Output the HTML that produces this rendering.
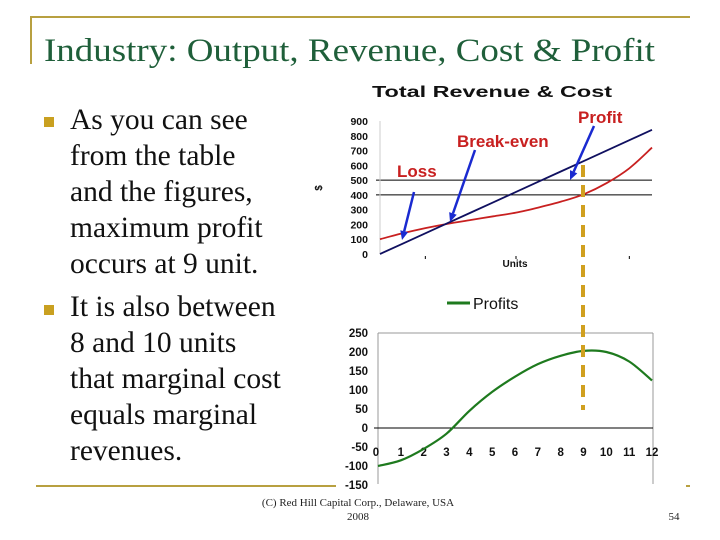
<!DOCTYPE html>
<html><head><meta charset="utf-8"><style>
html,body{margin:0;padding:0;background:#fff;}
svg{display:block;}
</style></head><body>
<svg id="slide" width="720" height="540" viewBox="0 0 720 540" xmlns="http://www.w3.org/2000/svg">
<line x1="30" y1="17" x2="690" y2="17" stroke="#b8a040" stroke-width="2"/>
<line x1="31" y1="17" x2="31" y2="64" stroke="#b8a040" stroke-width="2"/>
<text x="44" y="61" font-family="Liberation Serif, serif" font-size="33" textLength="611" lengthAdjust="spacingAndGlyphs" fill="#1f5f3a">Industry: Output, Revenue, Cost &amp; Profit</text>
<g font-family="Liberation Serif, serif" font-size="29.5" fill="#111">
<rect x="44" y="117" width="10" height="10" fill="#c9a020"/>
<text x="70" y="129">As you can see</text>
<text x="70" y="165">from the table</text>
<text x="70" y="201">and the figures,</text>
<text x="70" y="237">maximum profit</text>
<text x="70" y="273">occurs at 9 unit.</text>
<rect x="44" y="305" width="10" height="10" fill="#c9a020"/>
<text x="70" y="316">It is also between</text>
<text x="70" y="352">8 and 10 units</text>
<text x="70" y="388">that marginal cost</text>
<text x="70" y="424">equals marginal</text>
<text x="70" y="460">revenues.</text>
</g>
<line x1="36" y1="486" x2="336" y2="486" stroke="#b8a040" stroke-width="2"/>
<line x1="686" y1="486" x2="690" y2="486" stroke="#b8a040" stroke-width="2"/>
<text x="358" y="506" text-anchor="middle" font-family="Liberation Serif, serif" font-size="11" fill="#222">(C) Red Hill Capital Corp., Delaware, USA</text>
<text x="358" y="520" text-anchor="middle" font-family="Liberation Serif, serif" font-size="11" fill="#222">2008</text>
<text x="674" y="520" text-anchor="middle" font-family="Liberation Serif, serif" font-size="11" fill="#222">54</text>
<g id="topchart"></g>
<g id="botchart"></g>
<g id="ann"></g>
</svg>
<script>
const units = [0,1,2,3,4,5,6,7,8,9,10,11,12];
const revenue = [0,70,140,210,280,350,420,490,560,630,700,770,840];
const cost = [100,140,175,205,230,255,280,315,355,405,480,580,720];
const topTicks = [0,100,200,300,400,500,600,700,800,900];
const profits = [-100,-85,-55,-15,45,95,135,168,190,203,200,175,125];
const botTicks = [-150,-100,-50,0,50,100,150,200,250];

const NS="http://www.w3.org/2000/svg";
function mk(parent,tag,attrs,text){const e=document.createElementNS(NS,tag);for(const k in attrs)e.setAttribute(k,attrs[k]);if(text!==undefined)e.textContent=text;parent.appendChild(e);return e;}
function smooth(pts){let d="M"+pts[0][0]+","+pts[0][1];for(let i=0;i<pts.length-1;i++){const p0=pts[i-1]||pts[i],p1=pts[i],p2=pts[i+1],p3=pts[i+2]||p2;
d+=" C"+(p1[0]+(p2[0]-p0[0])/6)+","+(p1[1]+(p2[1]-p0[1])/6)+" "+(p2[0]-(p3[0]-p1[0])/6)+","+(p2[1]-(p3[1]-p1[1])/6)+" "+p2[0]+","+p2[1];}return d;}

// top chart
const tg=document.getElementById('topchart');
const tx=u=>380+u*(652-380)/12, ty=v=>254-v*(254-121)/900;
const tt=mk(tg,'text',{x:372,y:97,textLength:240,lengthAdjust:'spacingAndGlyphs','font-family':'Liberation Sans, sans-serif','font-size':16,'font-weight':'bold',fill:'#111'},'Total Revenue & Cost');


topTicks.forEach(v=>{const t=mk(tg,'text',{x:368,y:ty(v)+4,'text-anchor':'end','font-family':'Liberation Sans, sans-serif','font-size':10.5,'font-weight':'bold',fill:'#111'},String(v));

});
[400,500].forEach(v=>{const l=mk(tg,'line',{x1:376,x2:652,y1:ty(v),y2:ty(v),stroke:'#000','stroke-width':1});

});
mk(tg,'line',{x1:380,x2:380,y1:121,y2:254,stroke:'#ccc','stroke-width':1});
[2,6,11].forEach(u=>{const l=mk(tg,'line',{x1:tx(u),x2:tx(u),y1:256,y2:259,stroke:'#000','stroke-width':1});

});
const ul=mk(tg,'text',{x:515,y:267,'text-anchor':'middle','font-family':'Liberation Sans, sans-serif','font-size':10,'font-weight':'bold',fill:'#111'},'Units');


const yl=mk(tg,'text',{x:0,y:0,transform:'translate(322,188) rotate(-90)','text-anchor':'middle','font-family':'Liberation Sans, sans-serif','font-size':10,'font-weight':'bold',fill:'#111'},'$');


const cp=mk(tg,'path',{d:smooth(units.map((u,i)=>[tx(u),ty(cost[i])])),fill:'none',stroke:'#c82020','stroke-width':1.8});


const rp=mk(tg,'path',{d:"M"+units.map((u,i)=>tx(u)+","+ty(revenue[i])).join(" L"),fill:'none',stroke:'#101060','stroke-width':1.8});



// bottom chart
const bg=document.getElementById('botchart');
const bx=u=>378+u*(652-378)/12, by=v=>428-v*(428-333)/250;
const lg=mk(bg,'line',{x1:447,x2:470,y1:303,y2:303,stroke:'#1e7a1e','stroke-width':3});


const lt=mk(bg,'text',{x:473,y:309,'font-family':'Liberation Sans, sans-serif','font-size':16,fill:'#111'},'Profits');


mk(bg,'line',{x1:378,x2:653,y1:333,y2:333,stroke:'#999','stroke-width':1});
mk(bg,'line',{x1:378,x2:378,y1:333,y2:484,stroke:'#999','stroke-width':1});
mk(bg,'line',{x1:653,x2:653,y1:333,y2:484,stroke:'#999','stroke-width':1});
const xa=mk(bg,'line',{x1:374,x2:653,y1:by(0),y2:by(0),stroke:'#000','stroke-width':1});


botTicks.forEach(v=>{const t=mk(bg,'text',{x:368,y:by(v)+4,'text-anchor':'end','font-family':'Liberation Sans, sans-serif','font-size':11.5,'font-weight':'bold',fill:'#111'},String(v));

});
units.forEach(u=>{const t=mk(bg,'text',{x:bx(u)+(u===0?-2:0),y:456,'text-anchor':'middle','font-family':'Liberation Sans, sans-serif','font-size':11.5,'font-weight':'bold',fill:'#111'},String(u));

});
const pp=mk(bg,'path',{d:smooth(units.map((u,i)=>[bx(u),by(profits[i])])),fill:'none',stroke:'#1e7a1e','stroke-width':2.2});



// annotations
const ann=document.getElementById('ann');
const dl=mk(ann,'line',{x1:583,x2:583,y1:165,y2:410,stroke:'#d0a020','stroke-width':4,'stroke-dasharray':'12 8'});


[['Profit',578,123,'profit-label'],['Break-even',457,147,'break-even-label'],['Loss',397,177,'loss-label']].forEach(a=>{
const t=mk(ann,'text',{x:a[1],y:a[2],'font-family':'Liberation Sans, sans-serif','font-size':17,'font-weight':'bold',fill:'#c82020'},a[0]);

});
[[414,192,402,240],[475,150,450,222],[594,126,570,180]].forEach(a=>{
const ang=Math.atan2(a[3]-a[1],a[2]-a[0]);const L=9,W=4;
const bxp=a[2]-L*Math.cos(ang),byp=a[3]-L*Math.sin(ang);
const g=mk(ann,'g',{});


mk(g,'line',{x1:a[0],y1:a[1],x2:bxp,y2:byp,stroke:'#1a2ad0','stroke-width':2.5});
mk(g,'polygon',{points:a[2]+","+a[3]+" "+(bxp+W*Math.sin(ang))+","+(byp-W*Math.cos(ang))+" "+(bxp-W*Math.sin(ang))+","+(byp+W*Math.cos(ang)),fill:'#1a2ad0'});
});
</script>
</body></html>
